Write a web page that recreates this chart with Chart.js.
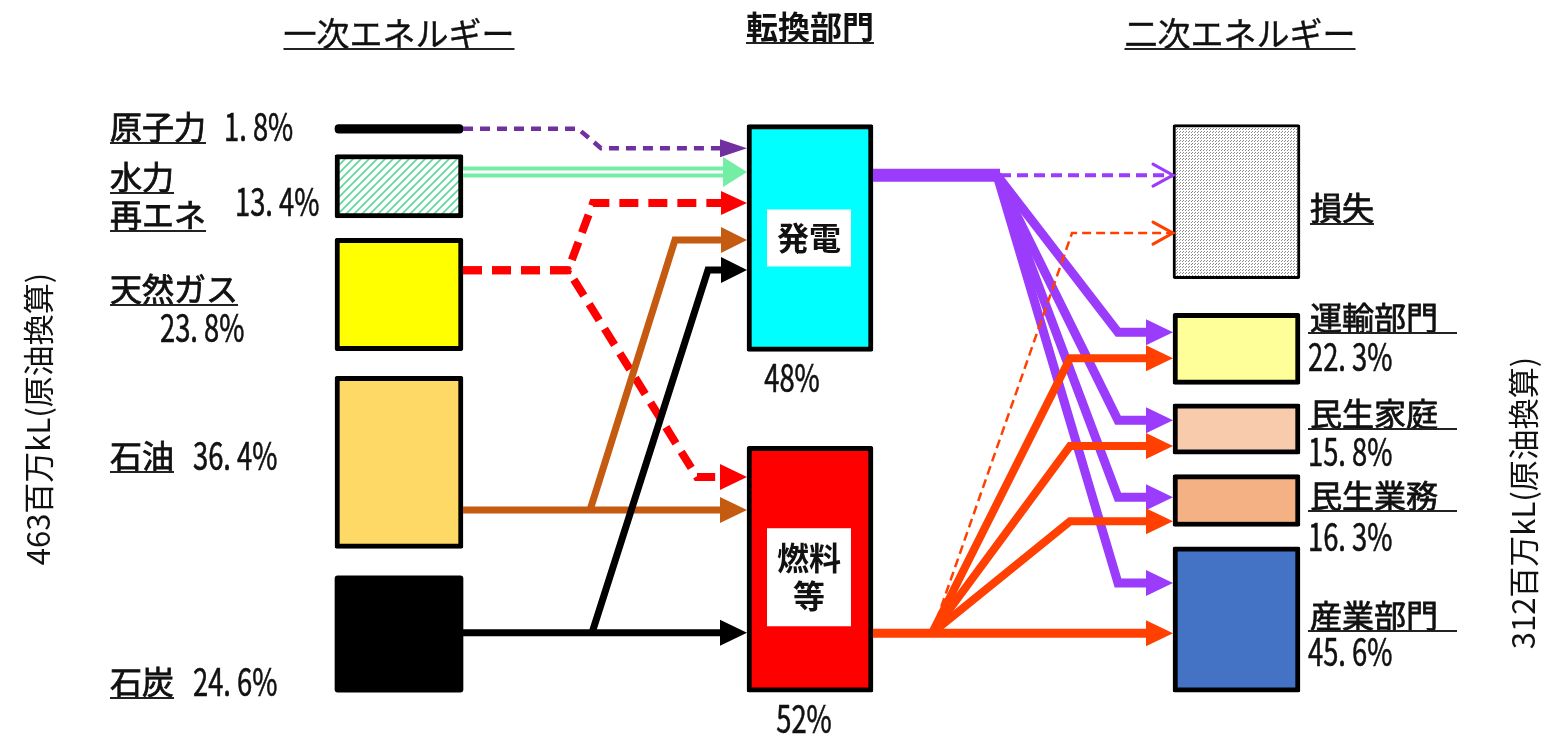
<!DOCTYPE html>
<html lang="ja">
<head>
<meta charset="utf-8">
<title>エネルギーフロー</title>
<script src="https://cdn.jsdelivr.net/npm/chart.js@4.4.1/dist/chart.umd.min.js"></script>
<style>
  html, body { margin: 0; padding: 0; background: #fff; }
  #wrap { width: 1541px; height: 734px; position: relative; }
</style>
</head>
<body>
<div id="wrap"><canvas id="flowChart"></canvas></div>
<script>
// 一次エネルギー供給（%）
var primaryNames = ['原子力', '水力\n再エネ', '天然ガス', '石油', '石炭'];
var primaryShares = [1.8, 13.4, 23.8, 36.4, 24.6];
var primaryTotal = 463; // 百万kL

// 転換部門（%）
var convNames = ['発電', '燃料\n等'];
var convShares = [48, 52];

// 二次エネルギー（最終消費, %）
var finalNames = ['運輸部門', '民生家庭', '民生業務', '産業部門'];
var finalShares = [22.3, 15.8, 16.3, 45.6];
var finalTotal = 312; // 百万kL
var lossName = '損失';
var lossAmount = primaryTotal - finalTotal;

// ---- layout ----
var COL_P = 399, COL_C = 810, COL_F = 1236.5;
var W_P = 128, W_C = 126, W_F = 127;
var gapsP = [27, 25, 20, 21];   // 下から: 石炭|石油|天然ガス|水力|原子力
var gapsF = [20, 20, 19, 34];   // 下から: 産業|業務|家庭|運輸|損失

function stackUp(amounts, gaps) {
  var out = [], lo = 0;
  amounts.forEach(function (a, i) {
    out.push([lo, lo + a]);
    lo += a + (gaps[i] || 0);
  });
  return out;
}

var pAmt = primaryShares.map(function (s) { return s * primaryTotal / 100; });
var pBoxes = stackUp(pAmt.slice().reverse(), gapsP).reverse();
var topY = pBoxes[0][1];
var cAmt = convShares.map(function (s) { return s * primaryTotal / 100; });
var cBoxes = [[topY - cAmt[0], topY], [0, cAmt[1]]];
var fAmt = finalShares.map(function (s) { return s * finalTotal / 100; });
var fBoxes = stackUp([lossAmount].concat(fAmt).reverse(), gapsF).reverse(); // 損失, 運輸, 家庭, 業務, 産業

var pR = COL_P + W_P / 2, cL = COL_C - W_C / 2, cR = COL_C + W_C / 2, fL = COL_F - W_F / 2;

function yIn(b, frac) { return b[1] - frac * (b[1] - b[0]); }

// patterns
function hatch() {
  var c = document.createElement('canvas'); c.width = 8; c.height = 8;
  var g = c.getContext('2d');
  g.fillStyle = '#fff'; g.fillRect(0, 0, 8, 8);
  g.strokeStyle = '#5cd89a'; g.lineWidth = 1.6;
  g.beginPath();
  g.moveTo(0, 8); g.lineTo(8, 0);
  g.moveTo(-2, 2); g.lineTo(2, -2);
  g.moveTo(6, 10); g.lineTo(10, 6);
  g.stroke();
  return g.createPattern(c, 'repeat');
}
function stipple() {
  var c = document.createElement('canvas'); c.width = 3; c.height = 3;
  var g = c.getContext('2d');
  g.fillStyle = '#fff'; g.fillRect(0, 0, 3, 3);
  g.fillStyle = '#8a8a8a'; g.fillRect(0, 0, 1, 1); g.fillRect(1, 2, 1, 1);
  return g.createPattern(c, 'repeat');
}

// ---- flows ----
var PURPLE = '#9b3bfb', ORANGE = '#ff4000';
var flowSpecs = [
  // 一次 → 転換
  {from: [pBoxes[0], 0.5], to: [cBoxes[0], 0.104], x0: pR, x1: cL, bends: [[578, 's'], [601, 't']], color: '#7030a0', width: 4.5, dash: [10, 7], head: 'fill', hl: 27, hw: 9},
  {from: [pBoxes[1], 0.278], flat: true, x0: pR, x1: cL, color: '#74eea4', width: 11, head: 'fill', hl: 24, hw: 15},
  {from: [pBoxes[1], 0.278], flat: true, x0: pR, x1: cL - 24, color: '#fff', width: 3},
  {from: [pBoxes[2], 0.284], to: [cBoxes[0], 0.346], x0: pR, x1: cL, bends: [[568, 's'], [593, 't']], color: '#ff0000', width: 8, dash: [19, 10], head: 'fill', hl: 26, hw: 12},
  {from: [pBoxes[2], 0.284], to: [cBoxes[1], 0.125], x0: pR, x1: cL, bends: [[568, 's'], [697, 't']], color: '#ff0000', width: 8, dash: [19, 10], head: 'fill', hl: 27, hw: 13},
  {from: [pBoxes[3], 0.778], flat: true, x0: pR, x1: cL, color: '#c55a11', width: 7, head: 'fill', hl: 27, hw: 13},
  {from: [pBoxes[3], 0.778], to: [cBoxes[0], 0.509], x0: 590, x1: cL, bends: [[675, 't']], color: '#c55a11', width: 7, head: 'fill', hl: 26, hw: 13},
  {from: [pBoxes[4], 0.49], flat: true, x0: pR, x1: cL, color: '#000', width: 7, head: 'fill', hl: 27, hw: 13},
  {from: [pBoxes[4], 0.49], to: [cBoxes[0], 0.641], x0: 592, x1: cL, bends: [[708, 't']], color: '#000', width: 7, head: 'fill', hl: 26, hw: 13},
  // 発電 → 二次
  {from: [cBoxes[0], 0.223], flat: true, x0: cR, x1: 1000, color: PURPLE, width: 13},
  {from: [cBoxes[0], 0.223], flat: true, x0: 1000, x1: fL, color: PURPLE, width: 4, dash: [11, 6], head: 'open', hl: 20, hw: 11},
  {from: [cBoxes[0], 0.223], to: [fBoxes[1], 0.264], x0: 997, x1: fL, bends: [[1118, 't']], color: PURPLE, width: 9, head: 'fill', hl: 27, hw: 13},
  {from: [cBoxes[0], 0.223], to: [fBoxes[2], 0.324], x0: 997, x1: fL, bends: [[1118, 't']], color: PURPLE, width: 9, head: 'fill', hl: 27, hw: 13},
  {from: [cBoxes[0], 0.223], to: [fBoxes[3], 0.437], x0: 997, x1: fL, bends: [[1118, 't']], color: PURPLE, width: 9, head: 'fill', hl: 27, hw: 13},
  {from: [cBoxes[0], 0.223], to: [fBoxes[4], 0.249], x0: 997, x1: fL, bends: [[1118, 't']], color: PURPLE, width: 9, head: 'fill', hl: 27, hw: 13},
  // 燃料等 → 二次
  {from: [cBoxes[1], 0.76], flat: true, x0: cR, x1: fL, color: ORANGE, width: 9, head: 'fill', hl: 27, hw: 13},
  {from: [cBoxes[1], 0.76], to: [fBoxes[1], 0.63], x0: 932, x1: fL, bends: [[1070, 't']], color: ORANGE, width: 8, head: 'fill', hl: 27, hw: 13},
  {from: [cBoxes[1], 0.76], to: [fBoxes[2], 0.84], x0: 932, x1: fL, bends: [[1070, 't']], color: ORANGE, width: 8, head: 'fill', hl: 27, hw: 13},
  {from: [cBoxes[1], 0.76], to: [fBoxes[3], 0.9], x0: 932, x1: fL, bends: [[1070, 't']], color: ORANGE, width: 8, head: 'fill', hl: 27, hw: 13},
  {from: [cBoxes[1], 0.76], to: [fBoxes[0], 0.704], x0: 932, x1: fL, bends: [[1072, 't']], color: ORANGE, width: 2.5, dash: [9, 5], head: 'open', hl: 20, hw: 11}
];

function flowDataset(f, i) {
  var sy = yIn(f.from[0], f.from[1]);
  var ty = f.flat ? sy : yIn(f.to[0], f.to[1]);
  var pts = [{x: f.x0, y: sy}];
  (f.bends || []).forEach(function (b) { pts.push({x: b[0], y: b[1] === 's' ? sy : ty}); });
  var endX = f.head === 'fill' ? f.x1 - f.hl + 2 : f.x1;
  pts.push({x: endX, y: ty});
  return {
    type: 'line', data: pts, borderColor: f.color, borderWidth: f.width,
    borderDash: f.dash || [], borderCapStyle: 'butt', borderJoinStyle: 'miter',
    pointRadius: 0, pointHoverRadius: 0, fill: false, tension: 0,
    order: 1000 - i, head: f.head, hl: f.hl, hw: f.hw, tip: {x: f.x1, y: ty}
  };
}

function boxDataset(label, boxes, x, width, colors, borders, radius) {
  return {
    type: 'bar', label: label,
    data: boxes.map(function (b) { return {x: x, y: b}; }),
    backgroundColor: colors, borderColor: '#000', borderWidth: borders,
    borderSkipped: false, borderRadius: radius, barThickness: width,
    grouped: false, order: 2000
  };
}

var arrowHeads = {
  id: 'arrowHeads',
  afterDatasetsDraw: function (chart) {
    var ctx = chart.ctx, xs = chart.scales.x, ys = chart.scales.y;
    chart.data.datasets.forEach(function (ds) {
      if (!ds.head) return;
      var tx = xs.getPixelForValue(ds.tip.x), ty = ys.getPixelForValue(ds.tip.y);
      ctx.save();
      if (ds.head === 'open') {
        ctx.strokeStyle = ds.borderColor; ctx.lineWidth = 3; ctx.lineCap = 'round'; ctx.lineJoin = 'miter';
        ctx.beginPath();
        ctx.moveTo(tx - ds.hl, ty - ds.hw); ctx.lineTo(tx, ty); ctx.lineTo(tx - ds.hl, ty + ds.hw);
        ctx.stroke();
      } else {
        ctx.fillStyle = ds.borderColor;
        ctx.beginPath();
        ctx.moveTo(tx, ty); ctx.lineTo(tx - ds.hl, ty - ds.hw); ctx.lineTo(tx - ds.hl, ty + ds.hw);
        ctx.closePath(); ctx.fill();
      }
      ctx.restore();
    });
  }
};

var JP = "'Noto Sans CJK JP', 'Noto Sans', sans-serif";
function txt(ctx, s, x, y, o) {
  o = o || {};
  ctx.save();
  ctx.font = (o.weight || 'normal') + ' ' + (o.size || 32) + 'px ' + JP;
  ctx.fillStyle = o.color || '#111';
  ctx.strokeStyle = o.color || '#111';
  ctx.lineWidth = o.stroke || 0;
  ctx.textBaseline = 'middle';
  ctx.textAlign = o.align || 'left';
  var sx = o.sx || 1;
  ctx.translate(x, y);
  if (o.rot) ctx.rotate(o.rot);
  ctx.scale(sx, 1);
  ctx.fillText(s, 0, 0);
  if (o.stroke) ctx.strokeText(s, 0, 0);
  var w = ctx.measureText(s).width * sx;
  ctx.restore();
  return w;
}
function uline(ctx, x1, x2, y) {
  ctx.save();
  ctx.strokeStyle = '#222'; ctx.lineWidth = 2;
  ctx.beginPath(); ctx.moveTo(x1, y); ctx.lineTo(x2, y); ctx.stroke();
  ctx.restore();
}
function pct(v) { return v.toFixed(1).replace('.', '. ') + '%'; }
var LBL = {stroke: 0.8};
var NUM = {size: 38, sx: 0.72, stroke: 0.6};

var leftLayout = [
  {lines: [[110, 127]], p: [224, 127]},
  {lines: [[110, 177], [110, 215]], p: [235, 202]},
  {lines: [[110, 289]], p: [160, 328]},
  {lines: [[110, 456]], p: [193, 456]},
  {lines: [[110, 682]], p: [193, 682]}
];
var rightLayout = [
  {name: [1310, 318], p: [1308, 357]},
  {name: [1310, 414], p: [1308, 452]},
  {name: [1310, 496], p: [1308, 537]},
  {name: [1310, 616], p: [1308, 652]}
];

var labels = {
  id: 'labels',
  afterDraw: function (chart) {
    var ctx = chart.ctx;
    // 見出し
    var w = txt(ctx, '一次エネルギー', 399, 33, {align: 'center', size: 33, stroke: 0.4});
    uline(ctx, 399 - w / 2, 399 + w / 2, 49);
    w = txt(ctx, '転換部門', COL_C, 27, {align: 'center', weight: 'bold'});
    uline(ctx, COL_C - w / 2, COL_C + w / 2, 43);
    w = txt(ctx, '二次エネルギー', 1240, 33, {align: 'center', size: 33, stroke: 0.4});
    uline(ctx, 1240 - w / 2, 1240 + w / 2, 49);

    // 一次エネルギー
    primaryNames.forEach(function (n, i) {
      var L = leftLayout[i];
      n.split('\n').forEach(function (part, k) {
        var p = L.lines[k];
        var lw = txt(ctx, part, p[0], p[1], LBL);
        uline(ctx, p[0], p[0] + lw, p[1] + 16);
      });
      txt(ctx, pct(primaryShares[i]), L.p[0], L.p[1], NUM);
    });

    // 転換部門
    var meta = chart.getDatasetMeta(1);
    meta.data.forEach(function (bar, i) {
      var top = Math.min(bar.y, bar.base), bot = Math.max(bar.y, bar.base);
      var cy = (top + bot) / 2 + (i === 1 ? 8 : 0);
      var parts = convNames[i].split('\n');
      var h = parts.length === 1 ? 57 : 98;
      ctx.fillStyle = '#fff';
      ctx.fillRect(COL_C - 43, cy - h / 2, 84, h);
      parts.forEach(function (part, k) {
        txt(ctx, part, COL_C - 1, cy + (k - (parts.length - 1) / 2) * 38, {align: 'center', weight: 'bold'});
      });
      txt(ctx, convShares[i] + '%', COL_C - 18 + i * 12, bot + 26, {align: 'center', size: 38, sx: 0.72, stroke: 0.6});
    });

    // 二次エネルギー
    var lw = txt(ctx, lossName, 1310, 208, LBL);
    uline(ctx, 1310, 1310 + lw, 224);
    finalNames.forEach(function (n, i) {
      var R = rightLayout[i];
      txt(ctx, n, R.name[0], R.name[1], LBL);
      uline(ctx, 1308, 1457, R.name[1] + 15);
      txt(ctx, pct(finalShares[i]), R.p[0], R.p[1], NUM);
    });

    // 縦軸の総量
    txt(ctx, primaryTotal + '百万kL(原油換算)', 38, 419, {align: 'center', size: 31, rot: -Math.PI / 2});
    txt(ctx, finalTotal + '百万kL(原油換算)', 1523, 503, {align: 'center', size: 31, rot: -Math.PI / 2});
  }
};

var datasets = [
  boxDataset('一次エネルギー', pBoxes, COL_P, W_P,
    ['#000', hatch(), '#ffff00', '#ffd966', '#000'], [0, 5, 5, 5, 0], [4, 2, 2, 2, 3]),
  boxDataset('転換部門', cBoxes, COL_C, W_C, ['#00ffff', '#ff0000'], [5, 5], 2),
  boxDataset('二次エネルギー', fBoxes, COL_F, W_F,
    [stipple(), '#ffff99', '#f8cbad', '#f4b183', '#4472c4'], [3, 5, 5, 5, 5], 2)
].concat(flowSpecs.map(flowDataset));

new Chart(document.getElementById('flowChart'), {
  type: 'bar',
  data: { datasets: datasets },
  options: {
    responsive: true,
    maintainAspectRatio: false,
    animation: false,
    events: [],
    layout: { padding: 0 },
    plugins: {
      legend: { display: false },
      tooltip: { enabled: false },
      title: { display: false }
    },
    scales: {
      x: { type: 'linear', min: 0, max: 1541, offset: false, display: false },
      y: { type: 'linear', min: -41, max: 678, display: false }
    }
  },
  plugins: [arrowHeads, labels]
});
</script>
</body>
</html>
